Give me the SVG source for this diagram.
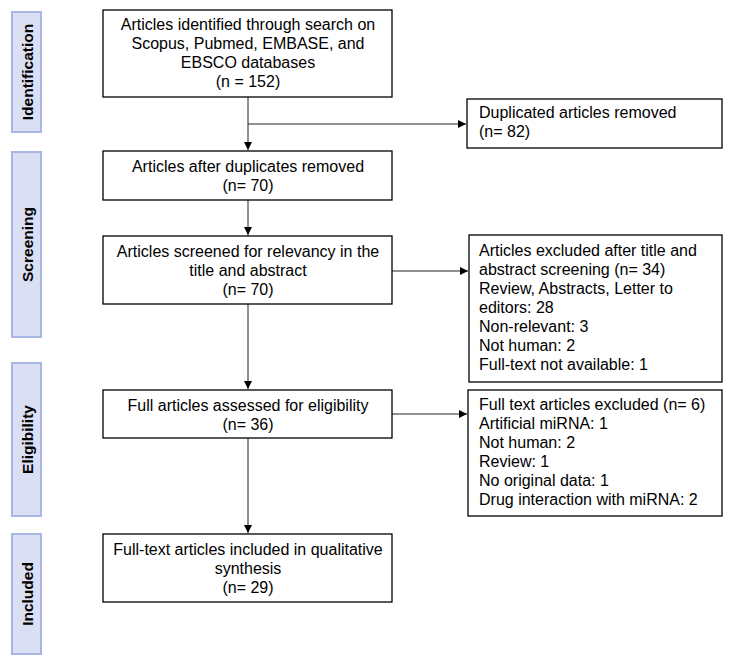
<svg xmlns="http://www.w3.org/2000/svg" width="731" height="664" viewBox="0 0 731 664">
<style>
.side rect{fill:#dadff4;stroke:#a9b5e2;stroke-width:2}
.side text{font-family:"Liberation Sans",Arial,sans-serif;font-weight:bold;font-size:15.5px;fill:#000;text-anchor:middle}
.box rect{fill:#fff;stroke:#000;stroke-width:1.3}
.box text{font-family:"Liberation Sans",Arial,sans-serif;font-size:16px;fill:#000}
.c text{text-anchor:middle}
.conn line{stroke:#222;stroke-width:1}
</style>
<defs>
<marker id="ah" viewBox="0 0 10 10" refX="10" refY="5" markerWidth="8" markerHeight="8" markerUnits="userSpaceOnUse" orient="auto">
<path d="M0,0 L10,5 L0,10 z" fill="#000"/>
</marker>
</defs>
<rect width="731" height="664" fill="#fff"/>
<g id="side-identification" class="side"><rect x="12" y="12" width="29" height="120"/><text transform="translate(33,72) rotate(-90)">Identification</text></g>
<g id="side-screening" class="side"><rect x="12" y="152" width="29" height="185"/><text transform="translate(33,244.5) rotate(-90)">Screening</text></g>
<g id="side-eligibility" class="side"><rect x="12" y="363" width="29" height="153"/><text transform="translate(33,439.5) rotate(-90)">Eligibility</text></g>
<g id="side-included" class="side"><rect x="12" y="534" width="29" height="120"/><text transform="translate(33,594) rotate(-90)">Included</text></g>
<g id="conn" class="conn">
<line x1="248" y1="97" x2="248" y2="150" marker-end="url(#ah)"/>
<line x1="248" y1="124" x2="466" y2="124" marker-end="url(#ah)"/>
<line x1="248" y1="200" x2="248" y2="235" marker-end="url(#ah)"/>
<line x1="392" y1="271" x2="468" y2="271" marker-end="url(#ah)"/>
<line x1="248" y1="304" x2="248" y2="389" marker-end="url(#ah)"/>
<line x1="392" y1="414" x2="467" y2="414" marker-end="url(#ah)"/>
<line x1="248" y1="438" x2="248" y2="533" marker-end="url(#ah)"/>
</g>
<g id="n1" class="box c"><rect x="103" y="10" width="289" height="87"/>
<text x="248" y="30">Articles identified through search on</text>
<text x="248" y="49">Scopus, Pubmed, EMBASE, and</text>
<text x="248" y="68">EBSCO databases</text>
<text x="248" y="87">(n = 152)</text></g>
<g id="n2" class="box"><rect x="467" y="99" width="255" height="49"/>
<text x="479" y="118">Duplicated articles removed</text>
<text x="479" y="137">(n= 82)</text></g>
<g id="n3" class="box c"><rect x="103" y="151" width="289" height="49"/>
<text x="248" y="172">Articles after duplicates removed</text>
<text x="248" y="191">(n= 70)</text></g>
<g id="n4" class="box c"><rect x="103" y="236" width="289" height="68"/>
<text x="248" y="257">Articles screened for relevancy in the</text>
<text x="248" y="276">title and abstract</text>
<text x="248" y="295">(n= 70)</text></g>
<g id="n5" class="box"><rect x="469" y="235" width="253" height="147"/>
<text x="479" y="256">Articles excluded after title and</text>
<text x="479" y="275">abstract screening (n= 34)</text>
<text x="479" y="294">Review, Abstracts, Letter to</text>
<text x="479" y="313">editors: 28</text>
<text x="479" y="332">Non-relevant: 3</text>
<text x="479" y="351">Not human: 2</text>
<text x="479" y="370">Full-text not available: 1</text></g>
<g id="n6" class="box c"><rect x="103" y="390" width="289" height="48"/>
<text x="248" y="411">Full articles assessed for eligibility</text>
<text x="248" y="430">(n= 36)</text></g>
<g id="n7" class="box"><rect x="468" y="390" width="254" height="126"/>
<text x="479" y="410">Full text articles excluded (n= 6)</text>
<text x="479" y="429">Artificial miRNA: 1</text>
<text x="479" y="448">Not human: 2</text>
<text x="479" y="467">Review: 1</text>
<text x="479" y="486">No original data: 1</text>
<text x="479" y="505">Drug interaction with miRNA: 2</text></g>
<g id="n8" class="box c"><rect x="103" y="534" width="289" height="68"/>
<text x="248" y="555">Full-text articles included in qualitative</text>
<text x="248" y="574">synthesis</text>
<text x="248" y="593">(n= 29)</text></g>
</svg>
